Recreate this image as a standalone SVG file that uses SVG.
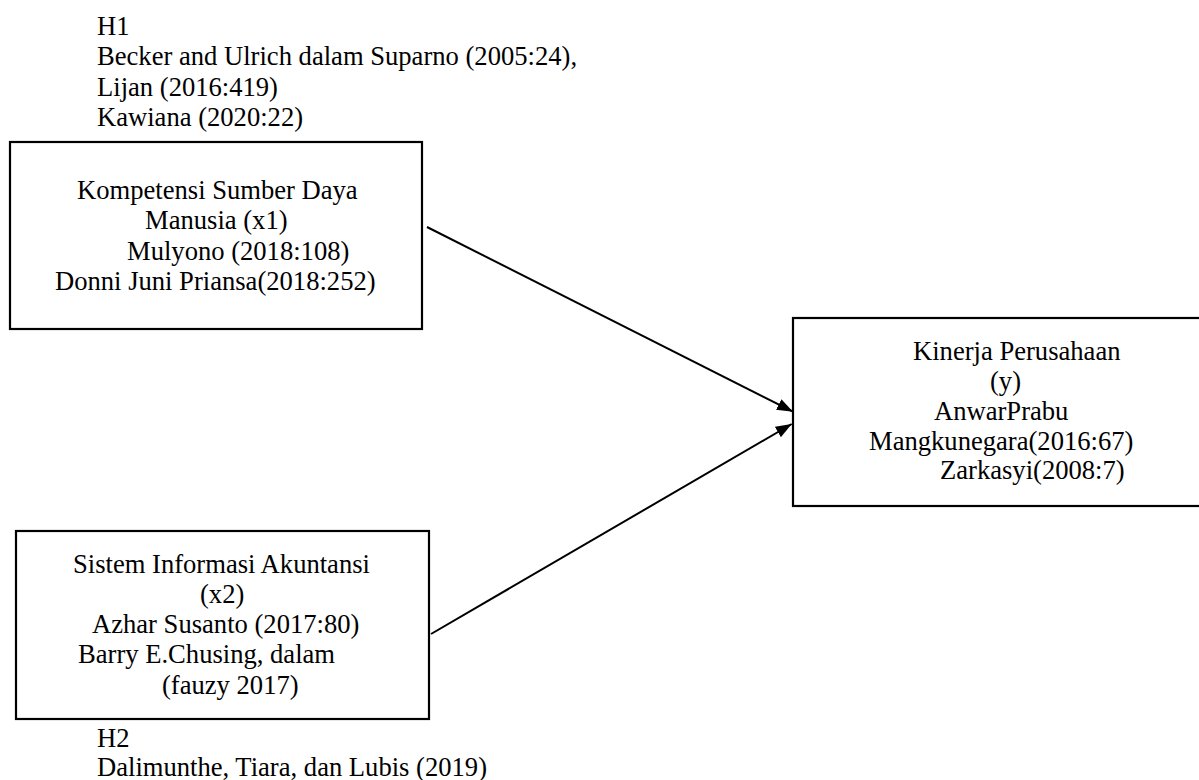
<svg xmlns="http://www.w3.org/2000/svg" width="1199" height="780" viewBox="0 0 1199 780">
<style>
  text { font-family: "Liberation Serif", "Times New Roman", Times, serif; font-size: 26.6px; fill: #000; }
  .box { fill: #fff; stroke: #000; stroke-width: 2.2; }
  .conn { stroke: #000; stroke-width: 2; fill: none; }
</style>
<defs>
  <marker id="arrow" markerUnits="userSpaceOnUse" viewBox="0 0 16 12" refX="16" refY="6" markerWidth="16" markerHeight="12" orient="auto">
    <path d="M0,0 L16,6 L0,12 z" fill="#000"/>
  </marker>
</defs>
<rect width="1199" height="780" fill="#fff"/>

<g id="h1-label">
  <text x="97" y="35">H1</text>
  <text x="97" y="65.3">Becker and Ulrich dalam Suparno (2005:24),</text>
  <text x="97" y="95.6">Lijan (2016:419)</text>
  <text x="97" y="126">Kawiana (2020:22)</text>
</g>

<g id="node-x1">
  <rect class="box" x="10" y="142" width="412" height="187"/>
  <text x="77" y="199">Kompetensi Sumber Daya</text>
  <text x="145" y="229.4">Manusia (x1)</text>
  <text x="127" y="259.8">Mulyono (2018:108)</text>
  <text x="55" y="290.2">Donni Juni Priansa(2018:252)</text>
</g>

<g id="node-x2">
  <rect class="box" x="16" y="531" width="413" height="188"/>
  <text x="73" y="572.5">Sistem Informasi Akuntansi</text>
  <text x="200" y="602.8">(x2)</text>
  <text x="92" y="633.1">Azhar Susanto (2017:80)</text>
  <text x="78" y="663.4">Barry E.Chusing, dalam</text>
  <text x="162" y="693.7">(fauzy 2017)</text>
</g>

<g id="node-y">
  <rect class="box" x="793" y="318" width="420" height="188"/>
  <text x="913" y="360">Kinerja Perusahaan</text>
  <text x="990" y="390">(y)</text>
  <text x="934" y="420">AnwarPrabu</text>
  <text x="869" y="449.5">Mangkunegara(2016:67)</text>
  <text x="940" y="479">Zarkasyi(2008:7)</text>
</g>

<g id="h2-label">
  <text x="97" y="747">H2</text>
  <text x="97" y="775.5">Dalimunthe, Tiara, dan Lubis (2019)</text>
</g>

<g id="connectors">
  <line class="conn" x1="427" y1="227" x2="793" y2="411.7" marker-end="url(#arrow)"/>
  <line class="conn" x1="431" y1="634" x2="791.7" y2="424" marker-end="url(#arrow)"/>
</g>
</svg>
